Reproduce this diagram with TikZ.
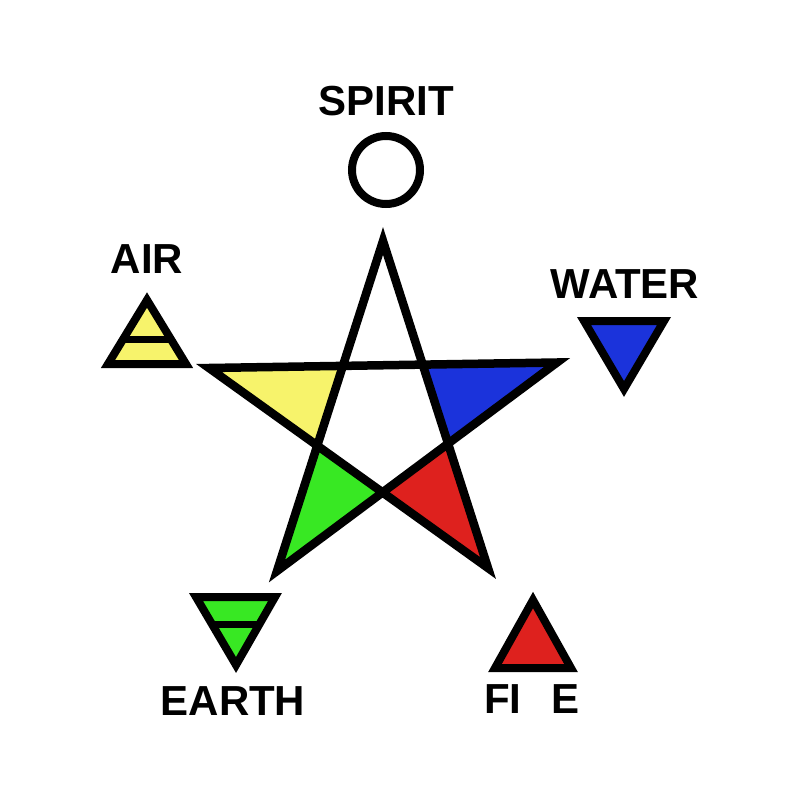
\documentclass[tikz,border=0pt]{standalone}
\usepackage{fontspec}
\setmainfont{Liberation Sans}
\begin{document}
\begin{tikzpicture}[x=1pt,y=-1pt,
  lbl/.style={font=\fontsize{42}{42}\selectfont\bfseries, inner sep=0pt, anchor=base},
  sym/.style={line width=8pt, line join=miter, draw=black},
  bar/.style={line width=7pt, draw=black}]
\definecolor{cyel}{HTML}{F7F36B}
\definecolor{cblu}{HTML}{1B33DB}
\definecolor{cgrn}{HTML}{38E823}
\definecolor{cred}{HTML}{DE211E}
\useasboundingbox (0,0) rectangle (800,800);
\fill[white] (0,0) rectangle (800,800);
% star vertices
\coordinate (T) at (383,241);
\coordinate (L) at (209,368);
\coordinate (R) at (557,362.5);
\coordinate (BL) at (277,571);
\coordinate (BR) at (488,568);
\coordinate (iTL) at (intersection of T--BL and L--R);
\coordinate (iTR) at (intersection of T--BR and L--R);
\coordinate (iLB) at (intersection of T--BL and L--BR);
\coordinate (iRB) at (intersection of T--BR and R--BL);
\coordinate (C) at (intersection of L--BR and R--BL);
\fill[cyel] (L) -- (iTL) -- (iLB) -- cycle;
\fill[cblu] (R) -- (iTR) -- (iRB) -- cycle;
\fill[cgrn] (BL) -- (iLB) -- (C) -- cycle;
\fill[cred] (BR) -- (iRB) -- (C) -- cycle;
\draw[sym, line width=8.5pt] (T) -- (BL) -- (R) -- (L) -- (BR) -- cycle;
% spirit
\node[lbl] (spirit) at (386,115) {SPIRIT};
\draw[line width=8pt] (386,170) circle[radius=34];
% air
\node[lbl] (air) at (147,273) {AIR};
\draw[sym, fill=cyel] (147,300) -- (186,364) -- (108,364) -- cycle;
\draw[bar] (123.2,339) -- (170.8,339);
% water
\node[lbl] (water) at (625,298) {WATER};
\draw[sym, fill=cblu] (584,321) -- (664,321) -- (624,389) -- cycle;
% earth
\node[lbl] (earth) at (233,715) {EARTH};
\draw[sym, fill=cgrn] (196,597) -- (275,597) -- (236,665) -- cycle;
\draw[bar] (212.3,624.5) -- (259.3,624.5);
% fire
\node[lbl] (fire) at (532,713) {FI\hphantom{R}E};
\draw[sym, fill=cred] (533,600) -- (571,668) -- (495,668) -- cycle;
\end{tikzpicture}
\end{document}
